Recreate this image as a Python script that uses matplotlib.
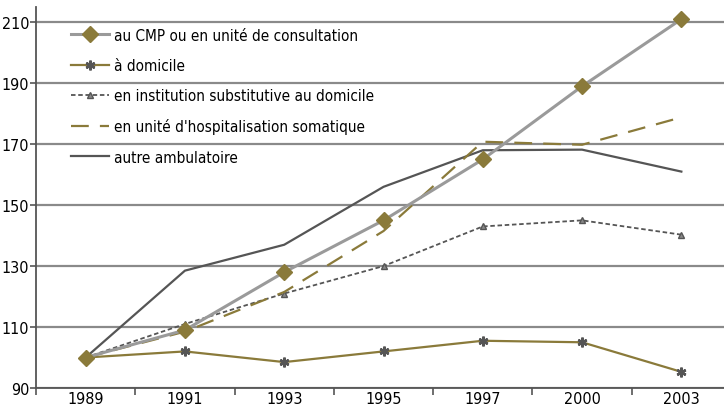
import matplotlib.pyplot as plt
from matplotlib import font_manager

# Data
years = ['1989', '1991', '1993', '1995', '1997', '2000', '2003']
cmp_vals = [100, 109, 128, 145, 165, 189, 211]
domicile = [100, 102, 98.5, 102, 105.5, 105, 95.3]
institution = [100, 111, 121, 130, 143, 145, 140.3]
hospit = [100, 108.5, 121.5, 141.5, 170.8, 169.8, 178.8]
autre = [100, 128.5, 137, 156, 168, 168.2, 161]

labels = ['au CMP ou en unité de consultation', 'à domicile',
          'en institution substitutive au domicile',
          "en unité d'hospitalisation somatique", 'autre ambulatoire']

# pick a condensed face if one is around
fonts = font_manager.fontManager.ttflist
narrow = [f for f in fonts if 'Narrow' in f.name or 'Condensed' in f.name
          or f.stretch in ('condensed', 'semi-condensed')]
stretch = 'normal'
fam = 'Liberation Sans'
if narrow:
    fam = narrow[0].name
    stretch = narrow[0].stretch
plt.rcParams['font.family'] = [fam, 'DejaVu Sans']
plt.rcParams['font.stretch'] = stretch

olive = '#8a7a3a'
grid_c = '#8a8a8a'

fig = plt.figure(figsize=(7.24, 4.10), dpi=100)
ax = fig.add_axes([36 / 724, 1 - 389 / 410, 695 / 724, 381 / 410])

x = list(range(len(years)))
ax.plot(x, cmp_vals, color='#9a9a9a', lw=2.2, marker='D', ms=8,
        mfc=olive, mec=olive, label=labels[0], zorder=5)
ax.plot(x, domicile, color=olive, lw=1.6, marker=(6, 2, 0), ms=7,
        mec='#555555', mew=1.8, label=labels[1], zorder=4)
ax.plot(x, institution, color='#555555', lw=1.3, ls=(0, (2.5, 1.5)),
        marker='^', ms=5, mfc='#888888', mec='#555555', label=labels[2], zorder=4)
ax.plot(x, hospit, color=olive, lw=1.6, ls=(0, (8, 5)), label=labels[3], zorder=4)
ax.plot(x, autre, color='#555555', lw=1.6, label=labels[4], zorder=3)

ax.set_xlim(-0.5, 6.5)
ax.set_ylim(90, 215)
ax.set_yticks(range(90, 211, 20))
ax.set_xticks(x)
ax.set_xticklabels(years)
ax.set_xticks([i - 0.5 for i in range(8)], minor=True)
ax.tick_params(axis='x', which='major', length=0, labelsize=11.5, pad=2.5)
ax.tick_params(axis='x', which='minor', length=5, width=1.2, color='#555555')
ax.tick_params(axis='y', length=4, width=1.2, color='#555555', labelsize=11.5, pad=1)

ax.yaxis.grid(True, color=grid_c, lw=1.6)
ax.set_axisbelow(True)
for s in ['top', 'right']:
    ax.spines[s].set_visible(False)
for s in ['left', 'bottom']:
    ax.spines[s].set_color('#555555')
    ax.spines[s].set_linewidth(1.3)

ax.legend(loc='upper left', bbox_to_anchor=(0.042, 0.962), frameon=False,
          fontsize=11, handlelength=2.5, handletextpad=0.3,
          labelspacing=1.0, borderaxespad=0)

fig.savefig('out.png', dpi=100)
